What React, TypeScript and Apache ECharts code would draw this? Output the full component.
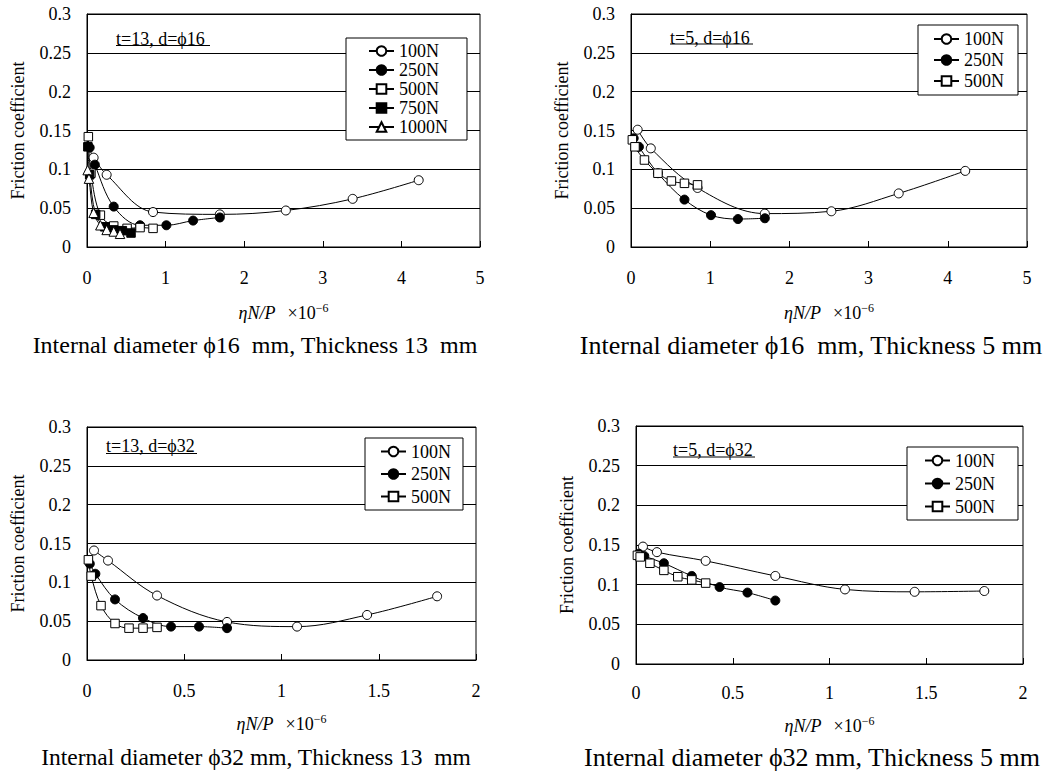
import React, { useEffect, useRef } from "react";
import * as echarts from "echarts";

const FONT = "Liberation Serif, Times New Roman, serif";

// ---------- data ----------
// Panel A: t=13, d=ϕ16  (x: ηN/P ×10^-6, y: friction coefficient)
const a100 = [[0.084, 0.115], [0.25, 0.093], [0.84, 0.045], [1.69, 0.042], [2.53, 0.047], [3.38, 0.062], [4.22, 0.086]];
const a250 = [[0.034, 0.128], [0.1, 0.106], [0.34, 0.052], [0.675, 0.028], [1.01, 0.028], [1.35, 0.034], [1.69, 0.038]];
const a500 = [[0.017, 0.142], [0.05, 0.095], [0.17, 0.041], [0.34, 0.027], [0.51, 0.024], [0.675, 0.025], [0.84, 0.024]];
const a750 = [[0.011, 0.129], [0.034, 0.093], [0.11, 0.042], [0.225, 0.026], [0.34, 0.022], [0.45, 0.021], [0.56, 0.018]];
const a1000 = [[0.0084, 0.099], [0.025, 0.088], [0.084, 0.044], [0.17, 0.028], [0.25, 0.022], [0.34, 0.02], [0.42, 0.017]];

// Panel B: t=5, d=ϕ16
const b100 = [[0.084, 0.151], [0.25, 0.127], [0.84, 0.076], [1.69, 0.043], [2.53, 0.046], [3.38, 0.069], [4.22, 0.098]];
const b250 = [[0.034, 0.14], [0.1, 0.129], [0.34, 0.095], [0.675, 0.061], [1.01, 0.041], [1.35, 0.036], [1.69, 0.037]];
const b500 = [[0.017, 0.138], [0.05, 0.129], [0.17, 0.112], [0.34, 0.095], [0.51, 0.085], [0.675, 0.082], [0.84, 0.08]];

// Panel C: t=13, d=ϕ32
const c100 = [[0.036, 0.141], [0.108, 0.128], [0.36, 0.083], [0.72, 0.049], [1.08, 0.043], [1.44, 0.058], [1.8, 0.082]];
const c250 = [[0.0144, 0.124], [0.043, 0.111], [0.144, 0.078], [0.288, 0.054], [0.432, 0.043], [0.576, 0.043], [0.72, 0.041]];
const c500 = [[0.0072, 0.129], [0.0216, 0.108], [0.072, 0.07], [0.144, 0.047], [0.216, 0.041], [0.288, 0.041], [0.36, 0.042]];

// Panel D: t=5, d=ϕ32
const d100 = [[0.036, 0.148], [0.108, 0.141], [0.36, 0.13], [0.72, 0.111], [1.08, 0.094], [1.44, 0.091], [1.8, 0.092]];
const d250 = [[0.0144, 0.139], [0.043, 0.136], [0.144, 0.127], [0.288, 0.111], [0.432, 0.097], [0.576, 0.09], [0.72, 0.08]];
const d500 = [[0.0072, 0.137], [0.0216, 0.135], [0.072, 0.127], [0.144, 0.118], [0.216, 0.11], [0.288, 0.106], [0.36, 0.102]];

const legendNames5 = ["100N", "250N", "500N", "750N", "1000N"];
const legendNames3 = ["100N", "250N", "500N"];

const yTicksMax = 0.3;
const yTickStep = 0.05;
const xMaxTop = 5;
const xStepTop = 1;
const xMaxBottom = 2;
const xStepBottom = 0.5;

const annotations = ["t=13, d=ϕ16", "t=5, d=ϕ16", "t=13, d=ϕ32", "t=5, d=ϕ32"];
const captions = [
  "Internal diameter ϕ16  mm, Thickness 13  mm",
  "Internal diameter ϕ16  mm, Thickness 5 mm",
  "Internal diameter ϕ32 mm, Thickness 13  mm",
  "Internal diameter ϕ32 mm, Thickness 5 mm",
];

// ---------- styling ----------
const markers: Record<string, { symbol: string; fill: string; size: number }> = {
  "100N": { symbol: "circle", fill: "#fff", size: 9 },
  "250N": { symbol: "circle", fill: "#000", size: 9 },
  "500N": { symbol: "rect", fill: "#fff", size: 8.5 },
  "750N": { symbol: "rect", fill: "#000", size: 8.5 },
  "1000N": { symbol: "triangle", fill: "#fff", size: 9.5 },
};

function mkSeries(name: string, data: number[][], idx: number) {
  const m = markers[name];
  return {
    type: "line",
    name,
    data,
    xAxisIndex: idx,
    yAxisIndex: idx,
    smooth: 0.35,
    clip: false,
    symbol: m.symbol,
    symbolSize: m.size,
    showSymbol: true,
    lineStyle: { color: "#000", width: 1 },
    itemStyle: { color: m.fill, borderColor: "#000", borderWidth: 1 },
    emphasis: { disabled: true },
  };
}

const grids = [
  { left: 87, top: 14, width: 393, height: 233 },
  { left: 631, top: 14, width: 396, height: 233 },
  { left: 87, top: 427, width: 389, height: 233 },
  { left: 636, top: 426, width: 387, height: 238 },
];

const xNameGaps = [55, 55, 53, 51];
const xLabelMargins = [22, 22, 22, 20];

function xAxis(idx: number, max: number, step: number) {
  return {
    type: "value",
    gridIndex: idx,
    min: 0,
    max,
    interval: step,
    axisLine: { show: true, lineStyle: { color: "#000", width: 1 } },
    axisTick: { show: true, inside: true, length: 6, lineStyle: { color: "#000" } },
    axisLabel: { margin: xLabelMargins[idx], fontSize: 18, fontFamily: FONT, color: "#000" },
    splitLine: { show: false },
    name: "{i|ηN/P}    {n|×10}{s|−6}",
    nameLocation: "middle",
    nameGap: xNameGaps[idx],
    nameTextStyle: {
      fontFamily: FONT,
      rich: {
        i: { fontSize: 18, fontFamily: FONT, fontStyle: "italic", color: "#000", lineHeight: 22 },
        n: { fontSize: 18, fontFamily: FONT, color: "#000", lineHeight: 22 },
        s: { fontSize: 12, fontFamily: FONT, color: "#000", verticalAlign: "top", lineHeight: 22 },
      },
    },
  };
}

function yAxis(idx: number) {
  return {
    type: "value",
    gridIndex: idx,
    min: 0,
    max: yTicksMax,
    interval: yTickStep,
    axisLine: { show: true, lineStyle: { color: "#000", width: 1 } },
    axisTick: { show: true, inside: true, length: 5, lineStyle: { color: "#000" } },
    axisLabel: { margin: 16, fontSize: 18, fontFamily: FONT, color: "#000" },
    splitLine: { show: true, lineStyle: { color: "#000", width: 1 } },
    name: "Friction coefficient",
    nameLocation: "middle",
    nameGap: 60,
    nameTextStyle: { fontSize: 18, fontFamily: FONT, color: "#000" },
  };
}

function legend(names: string[], left: number, top: number, gap: number, padding: number[]) {
  return {
    data: names,
    orient: "vertical",
    left,
    top,
    itemWidth: 25,
    itemHeight: 12,
    itemGap: gap,
    padding,
    backgroundColor: "#fff",
    borderColor: "#000",
    borderWidth: 1,
    borderRadius: 0,
    selectedMode: false,
    textStyle: { fontSize: 18, fontFamily: FONT, color: "#000" },
  };
}

const annotPos = [
  { x: 116, y: 39, w: 94, uy: 45.5 },
  { x: 670, y: 37.5, w: 83, uy: 44 },
  { x: 106, y: 446, w: 91, uy: 453.5 },
  { x: 673, y: 450, w: 82, uy: 457 },
];

const captionPos = [
  { x: 255, y: 345, size: 24 },
  { x: 811, y: 345, size: 26 },
  { x: 256, y: 757, size: 23.5 },
  { x: 812, y: 757, size: 26 },
];

export default function App() {
  const ref = useRef<HTMLDivElement>(null);

  useEffect(() => {
    if (!ref.current) return;
    const chart = echarts.init(ref.current, undefined, { renderer: "svg" });

    const graphics: any[] = [];
    annotations.forEach((t, i) => {
      const p = annotPos[i];
      graphics.push({
        type: "text",
        x: p.x,
        y: p.y,
        style: { text: t, fontSize: 18, fontFamily: FONT, fill: "#000", textAlign: "left", textVerticalAlign: "middle" },
        z: 10,
      });
      graphics.push({
        type: "line",
        shape: { x1: p.x, y1: p.uy, x2: p.x + p.w, y2: p.uy },
        style: { stroke: "#000", lineWidth: 1 },
        z: 10,
      });
    });
    captions.forEach((t, i) => {
      const p = captionPos[i];
      graphics.push({
        type: "text",
        x: p.x,
        y: p.y,
        style: { text: t, fontSize: p.size, fontFamily: FONT, fill: "#000", textAlign: "center", textVerticalAlign: "middle" },
      });
    });

    const option = {
      animation: false,
      backgroundColor: "#fff",
      textStyle: { fontFamily: FONT },
      grid: grids.map((g) => ({ ...g, show: true, borderColor: "#000", borderWidth: 1, backgroundColor: "#fff", containLabel: false })),
      xAxis: [xAxis(0, xMaxTop, xStepTop), xAxis(1, xMaxTop, xStepTop), xAxis(2, xMaxBottom, xStepBottom), xAxis(3, xMaxBottom, xStepBottom)],
      yAxis: [yAxis(0), yAxis(1), yAxis(2), yAxis(3)],
      legend: [
        legend(legendNames5, 346, 38, 1, [4, 19, 4, 22]),
        legend(legendNames3, 918, 25, 3, [5, 14, 5, 15]),
        legend(legendNames3, 365, 438, 4.5, [4.5, 12, 4.5, 15]),
        legend(legendNames3, 907, 447, 5, [4.5, 23, 4.5, 17]),
      ],
      series: [
        mkSeries("100N", a100, 0),
        mkSeries("250N", a250, 0),
        mkSeries("500N", a500, 0),
        mkSeries("750N", a750, 0),
        mkSeries("1000N", a1000, 0),
        mkSeries("100N", b100, 1),
        mkSeries("250N", b250, 1),
        mkSeries("500N", b500, 1),
        mkSeries("100N", c100, 2),
        mkSeries("250N", c250, 2),
        mkSeries("500N", c500, 2),
        mkSeries("100N", d100, 3),
        mkSeries("250N", d250, 3),
        mkSeries("500N", d500, 3),
      ],
      graphic: graphics,
    };
    chart.setOption(option as any);
    return () => chart.dispose();
  }, []);

  return <div ref={ref} style={{ position: "absolute", left: 0, top: 0, width: 1045, height: 779 }} />;
}
